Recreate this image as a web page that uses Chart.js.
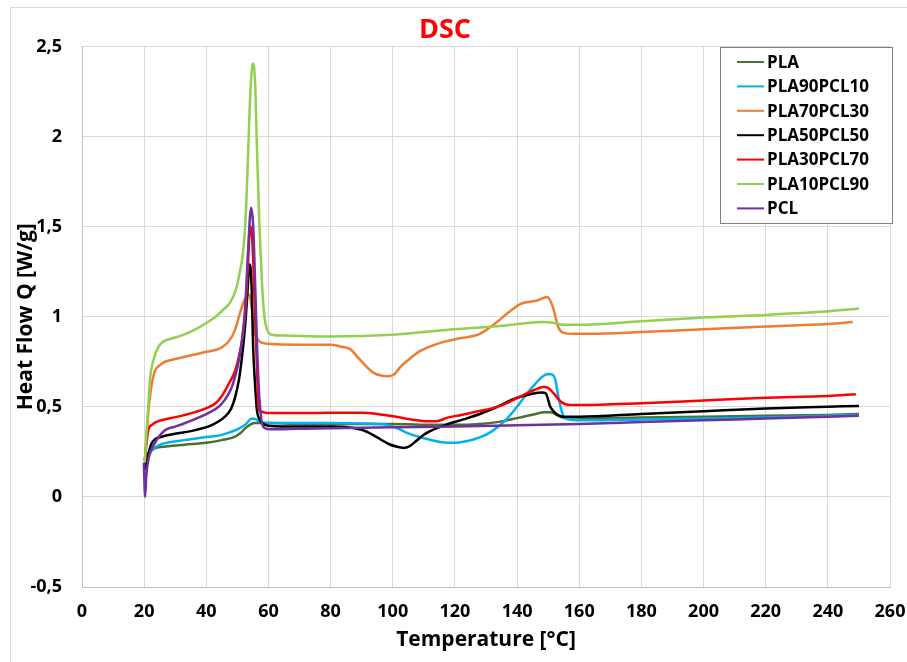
<!DOCTYPE html>
<html>
<head>
<meta charset="utf-8">
<script src="https://cdn.jsdelivr.net/npm/chart.js@4.4.1/dist/chart.umd.min.js"></script>
<style>
  html, body { margin: 0; padding: 0; background: #fff; }
  #wrap { width: 907px; height: 662px; }
</style>
</head>
<body>
<div id="wrap"><canvas id="dscChart" width="907" height="662"></canvas></div>
<script>
// temperatures [°C] and heat flow [W/g]
const plaT = [20.2, 20.6, 21.5, 23.5, 27, 33, 40, 45, 49.3, 51, 52.5, 54, 55.5, 57, 60, 70, 80, 90, 100, 110, 120, 128, 133.6, 138, 142, 146, 148.5, 150.7, 154, 158, 165, 180, 200, 220, 240, 250];
const plaQ = [0.18, 0.2, 0.24, 0.27, 0.28, 0.29, 0.3, 0.315, 0.335, 0.355, 0.38, 0.4, 0.41, 0.41, 0.41, 0.405, 0.405, 0.405, 0.405, 0.4, 0.4, 0.405, 0.415, 0.43, 0.445, 0.46, 0.47, 0.47, 0.445, 0.43, 0.435, 0.44, 0.445, 0.45, 0.455, 0.46];

const pla90T = [20.2, 20.6, 21.5, 22.5, 24.5, 27, 33, 39, 44, 47, 50, 52.5, 54.7, 56, 57.5, 60, 70, 80, 90, 95, 98, 101, 104, 108, 112, 116, 120, 124, 128, 132, 136, 140, 143, 146, 148, 149.7, 151, 152.3, 153.3, 155, 157, 162, 180, 200, 220, 240, 250];
const pla90Q = [0.16, 0.19, 0.23, 0.26, 0.285, 0.3, 0.315, 0.33, 0.34, 0.355, 0.375, 0.4, 0.435, 0.43, 0.415, 0.41, 0.41, 0.41, 0.408, 0.405, 0.4, 0.385, 0.36, 0.335, 0.317, 0.303, 0.3, 0.31, 0.33, 0.365, 0.42, 0.5, 0.57, 0.63, 0.665, 0.68, 0.68, 0.65, 0.555, 0.445, 0.43, 0.425, 0.43, 0.435, 0.44, 0.45, 0.455];

const pla70T = [20.2, 20.6, 21.5, 22.5, 23.5, 25, 26.7, 30, 38.6, 45, 47.5, 49.3, 51, 52.5, 53.6, 54.4, 55.1, 55.8, 57, 58, 60, 70, 80, 83, 86.3, 89.5, 93.7, 98.5, 100.5, 102.4, 105, 108.9, 115.3, 121.7, 128, 133.5, 137, 141, 143, 146.5, 149.7, 151.4, 153.3, 155, 158, 163.6, 180, 200, 220, 240, 248];
const pla70Q = [0.2, 0.3, 0.5, 0.63, 0.7, 0.73, 0.75, 0.765, 0.8, 0.83, 0.87, 0.93, 1.03, 1.1, 1.125, 1.08, 0.97, 0.9, 0.865, 0.855, 0.85, 0.845, 0.845, 0.835, 0.82, 0.76, 0.69, 0.67, 0.68, 0.72, 0.76, 0.81, 0.855, 0.88, 0.905, 0.97, 1.02, 1.07, 1.08, 1.09, 1.11, 1.06, 0.94, 0.91, 0.905, 0.905, 0.915, 0.93, 0.945, 0.96, 0.97];

const pla50T = [20.2, 20.6, 21.5, 22.5, 25.8, 30, 35, 41.9, 46, 48, 49.3, 50.5, 51.5, 52.5, 53.3, 53.9, 54.5, 55.1, 55.7, 56.3, 57.1, 57.9, 60, 70, 80, 86, 90.5, 93, 96, 98.5, 101.4, 103.5, 105.3, 107.5, 110, 112, 117, 122.7, 128, 133.6, 140, 144.3, 148, 149.2, 150.7, 152, 153, 155, 160, 180, 200, 220, 240, 250];
const pla50Q = [0.15, 0.19, 0.25, 0.3, 0.335, 0.35, 0.365, 0.4, 0.445, 0.49, 0.555, 0.65, 0.78, 0.95, 1.15, 1.29, 1.2, 0.82, 0.62, 0.48, 0.43, 0.41, 0.395, 0.39, 0.39, 0.385, 0.37, 0.35, 0.32, 0.295, 0.278, 0.272, 0.28, 0.31, 0.345, 0.365, 0.4, 0.43, 0.46, 0.5, 0.55, 0.57, 0.58, 0.575, 0.5, 0.47, 0.455, 0.445, 0.445, 0.46, 0.475, 0.49, 0.5, 0.505];

const pla30T = [20.2, 20.6, 21.3, 22.5, 24.5, 28, 33.2, 39.6, 43, 45, 47, 49.3, 50.5, 51.5, 52.5, 53.3, 54.1, 54.8, 55.7, 56.3, 56.8, 57.5, 58.4, 60.5, 70, 80, 90, 95, 101, 106, 111, 114, 117.6, 122, 126, 134.6, 142, 146.5, 148.5, 150, 152, 154, 157, 160, 180, 200, 220, 240, 249];
const pla30Q = [0.2, 0.27, 0.37, 0.4, 0.42, 0.435, 0.455, 0.49, 0.52, 0.56, 0.62, 0.7, 0.78, 0.87, 1.02, 1.25, 1.5, 1.42, 1.0, 0.72, 0.5, 0.475, 0.47, 0.465, 0.465, 0.467, 0.467, 0.46, 0.445, 0.43, 0.42, 0.42, 0.44, 0.455, 0.47, 0.505, 0.565, 0.6, 0.61, 0.605, 0.57, 0.53, 0.51, 0.51, 0.52, 0.535, 0.55, 0.56, 0.57];

const pla10T = [20.2, 20.6, 21.3, 22, 23, 24.5, 26, 28, 32, 36, 40, 43, 45.5, 47.7, 49.5, 50.8, 51.9, 52.8, 53.5, 54.2, 55, 55.7, 56.3, 57.1, 57.9, 58.7, 59.5, 61, 65, 80, 100, 119.5, 135, 142, 148.5, 151, 155, 160, 180, 200, 220, 240, 250];
const pla10Q = [0.19, 0.3, 0.5, 0.67, 0.76, 0.83, 0.86, 0.875, 0.895, 0.925, 0.965, 1.0, 1.04, 1.08, 1.15, 1.25, 1.37, 1.6, 1.93, 2.25, 2.405, 2.3, 1.93, 1.5, 1.19, 1.0, 0.93, 0.9, 0.895, 0.89, 0.9, 0.93, 0.95, 0.962, 0.97, 0.968, 0.955, 0.955, 0.975, 0.995, 1.01, 1.03, 1.045];

const pclT = [19.9, 20.3, 20.7, 21.5, 23.5, 26.7, 30, 33.2, 40.6, 44, 46, 48, 49.3, 50.5, 51.5, 52.5, 53.4, 54.4, 55.1, 55.7, 56.3, 56.8, 57.3, 57.9, 59, 60.5, 70, 80, 100, 120, 140, 160, 180, 200, 220, 240, 250];
const pclQ = [0.19, 0.0, 0.12, 0.22, 0.3, 0.37, 0.39, 0.41, 0.465, 0.5, 0.54, 0.6, 0.67, 0.76, 0.87, 1.05, 1.35, 1.605, 1.5, 1.19, 0.85, 0.63, 0.5, 0.41, 0.38, 0.375, 0.378, 0.381, 0.386, 0.39, 0.397, 0.405, 0.415, 0.425, 0.435, 0.445, 0.45];

const seriesNames = ["PLA", "PLA90PCL10", "PLA70PCL30", "PLA50PCL50", "PLA30PCL70", "PLA10PCL90", "PCL"];
const seriesColors = ["#4a7030", "#00b0f0", "#ed7d31", "#000000", "#ff0000", "#92d050", "#7030a0"];
const xTicks = [0, 20, 40, 60, 80, 100, 120, 140, 160, 180, 200, 220, 240, 260];

const temps = [plaT, pla90T, pla70T, pla50T, pla30T, pla10T, pclT];
const flows = [plaQ, pla90Q, pla70Q, pla50Q, pla30Q, pla10Q, pclQ];

const FONT = "'Open Sans', 'DejaVu Sans', sans-serif";

// legend box drawn inside the plot, top right
const boxLegend = {
    id: "boxLegend",
    afterDraw(chart) {
        const ctx = chart.ctx;
        const x0 = 720, y0 = 47, w = 172, h = 176;
        ctx.save();
        ctx.fillStyle = "#fff";
        ctx.fillRect(x0, y0, w, h);
        ctx.strokeStyle = "#808080";
        ctx.lineWidth = 1;
        ctx.strokeRect(x0 + 0.5, y0 + 0.5, w, h);
        ctx.font = "bold 17px " + FONT;
        ctx.textBaseline = "middle";
        chart.data.datasets.forEach((ds, i) => {
            const y = 62 + i * 24.4;
            ctx.strokeStyle = ds.borderColor;
            ctx.lineWidth = 2;
            ctx.beginPath();
            ctx.moveTo(737, y);
            ctx.lineTo(764, y);
            ctx.stroke();
            ctx.fillStyle = "#000";
            ctx.fillText(ds.label, 767, y + 1);
        });
        ctx.restore();
    }
};

const frame = {
    id: "frame",
    beforeDraw(chart) {
        const ctx = chart.ctx;
        ctx.save();
        ctx.fillStyle = "#fff";
        ctx.fillRect(0, 0, chart.width, chart.height);
        ctx.strokeStyle = "#d9d9d9";
        ctx.lineWidth = 1;
        ctx.strokeRect(10.5, 7.5, 1000, 1000);
        ctx.restore();
    }
};

const ctx = document.getElementById("dscChart").getContext("2d");

new Chart(ctx, {
    type: "line",
    data: {
        datasets: seriesNames.map((name, i) => ({
            label: name,
            data: temps[i].map((t, k) => ({x: t, y: flows[i][k]})),
            borderColor: seriesColors[i],
            backgroundColor: seriesColors[i],
            borderWidth: 2.5,
            pointRadius: 0,
            fill: false,
            cubicInterpolationMode: "monotone",
            order: seriesNames.length - i
        }))
    },
    options: {
        responsive: false,
        animation: false,
        layout: {padding: {left: 0, right: 17, top: 0, bottom: 0}},
        plugins: {
            legend: {display: false},
            tooltip: {enabled: false},
            title: {
                display: true,
                text: "DSC",
                color: "#ff0000",
                font: {family: FONT, size: 27, weight: "bold"},
                padding: {top: 14, bottom: 0}
            }
        },
        scales: {
            x: {
                type: "linear",
                min: 0, max: 260,
                afterBuildTicks: s => { s.ticks = xTicks.map(v => ({value: v})); },
                afterFit: s => { s.height = 75; s.paddingLeft = 0; s.paddingRight = 0; },
                grid: {color: "#d9d9d9", drawTicks: false},
                border: {color: "#bfbfbf"},
                ticks: {color: "#000", padding: 14, font: {family: FONT, size: 18, weight: "bold"}},
                title: {
                    display: true,
                    text: "Temperature [°C]",
                    color: "#000",
                    font: {family: FONT, size: 21, weight: "bold"},
                    padding: {top: 0, bottom: 9}
                }
            },
            y: {
                min: -0.5, max: 2.5,
                afterFit: s => { s.width = 82; },
                grid: {color: "#d9d9d9", drawTicks: false},
                border: {color: "#bfbfbf"},
                ticks: {
                    stepSize: 0.5,
                    color: "#000",
                    padding: 20,
                    font: {family: FONT, size: 18, weight: "bold"},
                    callback: v => String(v).replace(".", ",")
                },
                title: {
                    display: true,
                    text: "Heat Flow Q [W/g]",
                    color: "#000",
                    font: {family: FONT, size: 21, weight: "bold"},
                    padding: {top: 13, bottom: 0}
                }
            }
        }
    },
    plugins: [frame, boxLegend]
});
</script>
</body>
</html>
